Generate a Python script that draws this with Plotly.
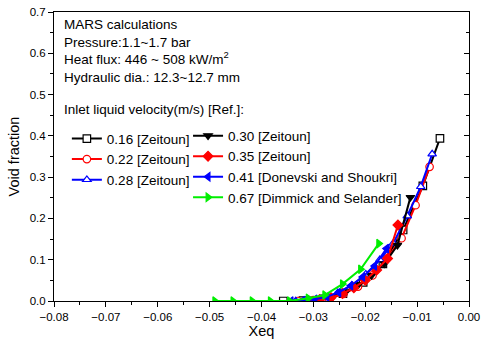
import plotly.graph_objects as go

# ---- data ----
x016 = [-0.0358, -0.0320, -0.0281, -0.0243, -0.0204, -0.0166, -0.0127, -0.0089, -0.0056]
y016 = [0.000, 0.001, 0.005, 0.018, 0.045, 0.090, 0.172, 0.279, 0.394]

x022 = [-0.0330, -0.0300, -0.0270, -0.0242, -0.0214, -0.0186, -0.0158, -0.0130, -0.0103, -0.0076]
y022 = [0.000, 0.002, 0.006, 0.017, 0.035, 0.062, 0.103, 0.152, 0.232, 0.325]

x028 = [-0.0334, -0.0307, -0.0280, -0.0253, -0.0226, -0.0199, -0.0172, -0.0146, -0.0119, -0.0093, -0.0071]
y028 = [0.000, 0.002, 0.008, 0.020, 0.038, 0.065, 0.100, 0.140, 0.206, 0.277, 0.356]

x030 = [-0.0313, -0.0288, -0.0263, -0.0238, -0.0213, -0.0188, -0.0163, -0.0138, -0.0113]
y030 = [0.000, 0.003, 0.010, 0.022, 0.040, 0.062, 0.090, 0.135, 0.251]

x035 = [-0.0310, -0.0288, -0.0266, -0.0244, -0.0222, -0.0200, -0.0178, -0.0157, -0.0137]
y035 = [0.000, 0.003, 0.008, 0.018, 0.032, 0.050, 0.075, 0.103, 0.184]

x041 = [-0.0343, -0.0320, -0.0297, -0.0274, -0.0251, -0.0228, -0.0205, -0.0182, -0.0159]
y041 = [0.000, 0.001, 0.004, 0.010, 0.021, 0.037, 0.058, 0.085, 0.127]

x067 = [-0.0490, -0.0455, -0.0418, -0.0383, -0.0346, -0.0310, -0.0278, -0.0244, -0.0209, -0.0174]
y067 = [0.000, 0.000, 0.000, 0.000, 0.000, 0.0065, 0.0145, 0.041, 0.077, 0.139]

FONT = "Arial, Liberation Sans, sans-serif"

# name, x, y, colour, symbol, open?, legend
series = [
    ("0.16 [Zeitoun]", x016, y016, "black", "square", True, "legend"),
    ("0.22 [Zeitoun]", x022, y022, "red", "circle", True, "legend"),
    ("0.28 [Zeitoun]", x028, y028, "blue", "triangle-up", True, "legend"),
    ("0.30 [Zeitoun]", x030, y030, "black", "triangle-down", False, "legend2"),
    ("0.35 [Zeitoun]", x035, y035, "red", "diamond", False, "legend2"),
    ("0.41 [Donevski and Shoukri]", x041, y041, "blue", "triangle-left", False, "legend2"),
    ("0.67 [Dimmick and Selander]", x067, y067, "#00ee00", "triangle-right", False, "legend2"),
]

fig = go.Figure()
for name, xs, ys, col, sym, is_open, lg in series:
    fig.add_trace(go.Scatter(
        x=xs, y=ys, name=name, mode="lines+markers", legend=lg,
        line=dict(color=col, width=2),
        marker=dict(symbol=sym, size=7.5, color="white" if is_open else col,
                    line=dict(color=col, width=1.2)),
    ))

# invisible trace to draw right-side inward ticks
fig.add_trace(go.Scatter(x=[-0.08], y=[0], yaxis="y2", mode="markers",
                         marker=dict(opacity=0), showlegend=False, hoverinfo="skip"))

fig.update_layout(
    width=481, height=340,
    margin=dict(l=54, r=12, t=12, b=39, autoexpand=False),
    plot_bgcolor="white", paper_bgcolor="white",
    font=dict(family=FONT, size=12, color="black"),
    xaxis=dict(
        range=[-0.08, 0.0], dtick=0.01, tickformat=".2f", automargin=False,
        showgrid=False, zeroline=False,
        showline=True, linecolor="black", linewidth=1, mirror=True,
        ticks="outside", ticklen=5, tickcolor="black",
        minor=dict(ticks="outside", ticklen=3, dtick=0.005, tickcolor="black"),
        tickfont=dict(size=11.5),
        title=dict(text="Xeq", font=dict(size=14.5), standoff=2),
    ),
    yaxis=dict(
        range=[0, 0.7], dtick=0.1, tickformat=".1f", automargin=False,
        showgrid=False, zeroline=False,
        showline=True, linecolor="black", linewidth=1, mirror=True,
        ticks="outside", ticklen=5, tickcolor="black",
        minor=dict(ticks="outside", ticklen=3, dtick=0.05, tickcolor="black"),
        tickfont=dict(size=11.5),
        title=dict(text="Void fraction", font=dict(size=14.5), standoff=6),
    ),
    yaxis2=dict(
        range=[0, 0.7], dtick=0.1, overlaying="y", side="right", automargin=False,
        showgrid=False, zeroline=False, showticklabels=False,
        ticks="inside", ticklen=5, tickcolor="black",
        minor=dict(ticks="inside", ticklen=3, dtick=0.05, tickcolor="black"),
    ),
    legend=dict(
        x=0.031, y=0.615, xanchor="left", yanchor="top",
        bgcolor="rgba(0,0,0,0)", font=dict(size=13.5),
        itemwidth=30, tracegroupgap=0,
    ),
    legend2=dict(
        x=0.323, y=0.625, xanchor="left", yanchor="top",
        bgcolor="rgba(0,0,0,0)", font=dict(size=13.5),
        itemwidth=30, tracegroupgap=0,
    ),
    showlegend=True,
)

fig.add_annotation(
    x=0.019, y=0.99, xref="paper", yref="paper", xanchor="left", yanchor="top",
    align="left", showarrow=False, font=dict(size=13.5),
    text=("MARS calculations<br>Pressure:1.1~1.7 bar<br>"
          "Heat flux: 446 ~ 508 kW/m<sup>2</sup><br>Hydraulic dia.: 12.3~12.7 mm"),
)
fig.add_annotation(
    x=0.019, y=0.695, xref="paper", yref="paper", xanchor="left", yanchor="top",
    align="left", showarrow=False, font=dict(size=13.5),
    text="Inlet liquid velocity(m/s) [Ref.]:",
)

fig.write_html("out.html")
